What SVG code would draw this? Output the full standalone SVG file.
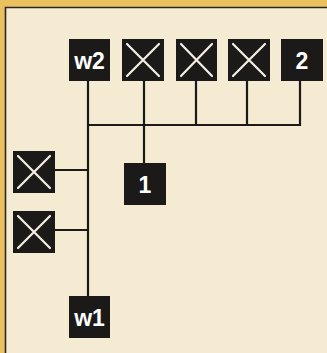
<svg xmlns="http://www.w3.org/2000/svg" width="327" height="353" viewBox="0 0 327 353">
<style>
.box{fill:#1c1a19}
.x{stroke:#f4efe4;stroke-width:2.2;stroke-linecap:round}
.lbl{fill:#ffffff;font-family:"Liberation Sans",Arial,sans-serif;font-weight:bold;font-size:23px;text-anchor:middle}
.wire{stroke:#1c1a19;stroke-width:2.2;fill:none}
</style>
<rect x="0" y="0" width="327" height="353" fill="#ebc160"/>
<rect x="5" y="7" width="330" height="350" fill="#f4ebd2"/>
<path d="M5.5 353 V7.5 H327" stroke="#2a2826" stroke-width="1.6" fill="none"/>
<g id="connectors">
<path class="wire" d="M88 81 V296"/>
<path class="wire" d="M88 125 H300 V81"/>
<path class="wire" d="M144 81 V163"/>
<path class="wire" d="M196 81 V125"/>
<path class="wire" d="M247 81 V125"/>
<path class="wire" d="M55 170 H88"/>
<path class="wire" d="M55 230 H88"/>
</g>
<g id="w2"><rect class="box" x="69" y="39" width="41" height="42"/><text class="lbl" x="89.5" y="69">w2</text></g>
<g id="x1"><rect class="box" x="122" y="39" width="42" height="42"/><path class="x" d="M127 44 L159 76 M159 44 L127 76"/></g>
<g id="x2"><rect class="box" x="176" y="39" width="41" height="42"/><path class="x" d="M181 44 L212 76 M212 44 L181 76"/></g>
<g id="x3"><rect class="box" x="228" y="39" width="42" height="42"/><path class="x" d="M233 44 L265 76 M265 44 L233 76"/></g>
<g id="n2"><rect class="box" x="281" y="39" width="42" height="42"/><text class="lbl" x="302" y="69">2</text></g>
<g id="n1"><rect class="box" x="124" y="163" width="42" height="42"/><text class="lbl" x="145" y="193">1</text></g>
<g id="x4"><rect class="box" x="13" y="151" width="42" height="42"/><path class="x" d="M18 156 L50 188 M50 156 L18 188"/></g>
<g id="x5"><rect class="box" x="13" y="211" width="42" height="42"/><path class="x" d="M18 216 L50 248 M50 216 L18 248"/></g>
<g id="w1"><rect class="box" x="69" y="296" width="41" height="42"/><text class="lbl" x="89.5" y="326">w1</text></g>
</svg>
